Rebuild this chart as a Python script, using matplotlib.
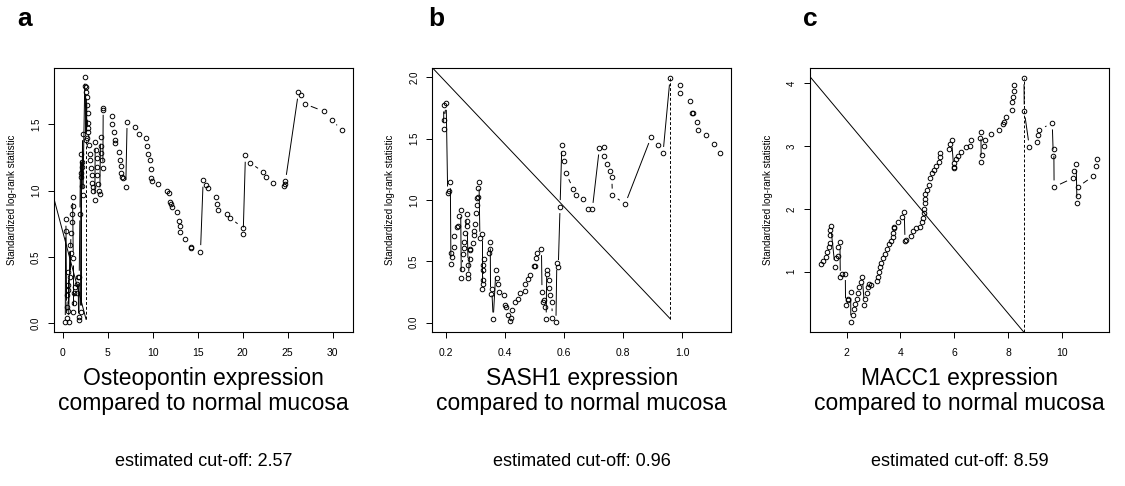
import numpy as np
import matplotlib
matplotlib.use("Agg")
from matplotlib import pyplot as plt
from matplotlib.collections import LineCollection

plt.rcParams['font.family'] = ['Liberation Sans', 'DejaVu Sans']

# panel a: Osteopontin
a_x = [0.26, 0.30, 0.33, 0.41, 0.41, 0.48, 0.52, 0.55, 0.59, 0.59, 0.63, 0.78, 0.78, 0.85, 0.89,
       0.96, 1.00, 1.07, 1.07, 1.15, 1.15, 1.22, 1.22, 1.33, 1.52, 1.59, 1.70, 1.74, 1.78, 1.81,
       1.89, 1.96, 1.96, 2.00, 2.03, 2.07, 2.08, 2.15, 2.18, 2.22, 2.44, 2.45, 2.52, 2.53, 2.59,
       2.63, 2.66, 2.67, 2.74, 2.75, 2.81, 2.82, 2.92, 2.96, 3.00, 3.14, 3.22, 3.26, 3.37, 3.40,
       3.55, 3.59, 3.70, 3.74, 3.75, 3.81, 3.92, 4.00, 4.10, 4.18, 4.25, 4.29, 4.37, 4.44, 4.48,
       4.50, 5.44, 5.45, 5.66, 5.77, 5.81, 6.22, 6.40, 6.44, 6.47, 6.59, 6.70, 6.99, 7.14,
       8.03, 8.47, 9.25, 9.36, 9.50, 9.70, 9.76, 9.80, 9.95, 10.6, 11.55, 11.8, 11.95, 12.0,
       12.1, 12.65, 12.95, 13.0, 13.05, 13.6, 14.2, 14.3, 15.3, 15.6, 15.9, 16.1, 17.05, 17.15,
       17.2, 18.3, 18.6, 20.0, 20.05, 20.3, 20.8, 22.3, 22.6, 23.4, 24.6, 24.65, 24.75, 26.2,
       26.5, 26.9, 29.0, 29.9, 31.0]
a_y = [0.013, 0.696, 0.784, 0.121, 0.038, 0.214, 0.251, 0.286, 0.384, 0.095, 0.013, 0.590, 0.352, 0.527, 0.683,
       0.761, 0.824, 0.887, 0.955, 0.490, 0.088, 0.226, 0.156, 0.276, 0.296, 0.226, 0.347, 0.025, 0.045, 0.347,
       0.824, 1.274, 0.085, 1.130, 1.100, 1.213, 1.180, 1.035, 1.427, 0.967, 1.854, 1.788, 1.778, 1.382, 1.741,
       1.394, 1.703, 1.648, 1.583, 1.444, 1.512, 1.474, 1.344, 1.276, 1.231, 1.168, 1.118, 1.055, 1.030, 1.000,
       0.929, 1.364, 1.306, 1.243, 1.176, 1.118, 1.050, 0.997, 0.975, 1.402, 1.336, 1.281, 1.231, 1.168, 1.620,
       1.608, 1.562, 1.502, 1.444, 1.382, 1.356, 1.289, 1.231, 1.186, 1.130, 1.105, 1.093, 1.030, 1.520,
       1.482, 1.425, 1.397, 1.334, 1.274, 1.230, 1.166, 1.098, 1.073, 1.048, 1.000, 0.980, 0.917, 0.902,
       0.877, 0.839, 0.771, 0.734, 0.686, 0.633, 0.565, 0.573, 0.540, 1.078, 1.043, 1.020, 0.952, 0.897,
       0.850, 0.822, 0.794, 0.720, 0.673, 1.266, 1.210, 1.140, 1.100, 1.060, 1.035, 1.050, 1.070, 1.741,
       1.721, 1.653, 1.598, 1.533, 1.457]

# panel b: SASH1
b_x = [0.193, 0.195, 0.194, 0.202, 0.207, 0.213, 0.216, 0.218, 0.219, 0.220, 0.229, 0.230, 0.237, 0.243,
       0.246, 0.251, 0.253, 0.255, 0.259, 0.261, 0.263, 0.265, 0.272, 0.272, 0.273, 0.276, 0.276, 0.277,
       0.282, 0.283, 0.284, 0.293, 0.296, 0.297, 0.298, 0.304, 0.305, 0.307, 0.309, 0.311, 0.313, 0.316,
       0.324, 0.324, 0.325, 0.326, 0.327, 0.328, 0.330, 0.347, 0.350, 0.351, 0.352, 0.356, 0.361, 0.370,
       0.375, 0.378, 0.380, 0.399, 0.402, 0.405, 0.410, 0.418, 0.421, 0.426, 0.435, 0.445, 0.450, 0.467,
       0.469, 0.478, 0.487, 0.499, 0.501, 0.505, 0.509, 0.524, 0.526, 0.528, 0.533, 0.536, 0.540, 0.542,
       0.543, 0.548, 0.549, 0.554, 0.559, 0.561, 0.573, 0.576, 0.581, 0.587, 0.593, 0.596, 0.600, 0.607,
       0.632, 0.641, 0.666, 0.683, 0.696, 0.720, 0.735, 0.737, 0.747, 0.755, 0.762, 0.764, 0.807, 0.895,
       0.919, 0.935, 0.959, 0.991, 0.992, 1.025, 1.034, 1.035, 1.051, 1.052, 1.081, 1.106, 1.129]
b_y = [1.576, 1.650, 1.774, 1.788, 1.057, 1.073, 1.149, 0.478, 0.565, 0.535, 0.620, 0.704, 0.783, 0.791,
       0.870, 0.916, 0.361, 0.440, 0.563, 0.606, 0.658, 0.728, 0.889, 0.832, 0.791, 0.473, 0.400, 0.364,
       0.592, 0.522, 0.603, 0.647, 0.750, 0.712, 0.807, 0.891, 0.962, 1.016, 1.027, 1.100, 1.144, 0.688,
       0.726, 0.277, 0.315, 0.430, 0.345, 0.473, 0.516, 0.565, 0.600, 0.658, 0.234, 0.277, 0.030, 0.427,
       0.361, 0.318, 0.250, 0.223, 0.141, 0.128, 0.060, 0.014, 0.041, 0.100, 0.166, 0.193, 0.239, 0.258,
       0.313, 0.356, 0.389, 0.465, 0.465, 0.530, 0.571, 0.603, 0.253, 0.171, 0.185, 0.130, 0.030, 0.430,
       0.400, 0.348, 0.285, 0.223, 0.168, 0.041, 0.003, 0.484, 0.457, 0.946, 1.448, 1.380, 1.318, 1.217,
       1.090, 1.038, 1.005, 0.929, 0.924, 1.424, 1.430, 1.361, 1.293, 1.239, 1.185, 1.040, 0.967, 1.514,
       1.448, 1.380, 1.995, 1.935, 1.872, 1.804, 1.707, 1.707, 1.633, 1.568, 1.530, 1.457, 1.380]

# panel c: MACC1
c_x = [1.046, 1.133, 1.220, 1.282, 1.344, 1.381, 1.393, 1.395, 1.406, 1.567, 1.600, 1.670, 1.690, 1.750,
       1.765, 1.830, 1.950, 1.960, 2.060, 2.065, 2.150, 2.155, 2.220, 2.280, 2.310, 2.370, 2.420, 2.470,
       2.540, 2.580, 2.660, 2.690, 2.740, 2.790, 2.840, 2.890, 3.110, 3.180, 3.210, 3.250, 3.280, 3.360,
       3.410, 3.510, 3.570, 3.630, 3.710, 3.730, 3.760, 3.765, 3.900, 4.060, 4.140, 4.170, 4.200, 4.400,
       4.480, 4.560, 4.720, 4.800, 4.840, 4.870, 4.890, 4.910, 4.920, 4.930, 5.000, 5.070, 5.110, 5.160,
       5.230, 5.310, 5.450, 5.470, 5.480, 5.800, 5.850, 5.900, 5.980, 5.985, 6.000, 6.060, 6.120, 6.250,
       6.430, 6.600, 6.610, 6.970, 6.990, 7.000, 7.030, 7.100, 7.160, 7.350, 7.680, 7.800, 7.850, 7.940,
       8.130, 8.140, 8.180, 8.220, 8.230, 8.590, 8.600, 8.790, 9.060, 9.120, 9.160, 9.640, 9.680, 9.700,
       9.710, 10.41, 10.46, 10.53, 10.56, 10.58, 10.59, 11.16, 11.25, 11.32]
c_y = [1.122, 1.175, 1.239, 1.308, 1.388, 1.462, 1.584, 1.664, 1.728, 1.080, 1.210, 1.250, 1.390, 1.467,
       0.910, 0.970, 0.970, 0.470, 0.550, 0.565, 0.680, 0.200, 0.310, 0.400, 0.480, 0.565, 0.665, 0.760,
       0.840, 0.910, 0.470, 0.565, 0.655, 0.750, 0.800, 0.780, 0.850, 0.920, 1.000, 1.080, 1.140, 1.210,
       1.280, 1.356, 1.435, 1.494, 1.550, 1.620, 1.690, 1.706, 1.797, 1.876, 1.945, 1.483, 1.500, 1.574,
       1.647, 1.700, 1.717, 1.797, 1.850, 1.930, 2.000, 2.090, 2.230, 2.150, 2.300, 2.380, 2.490, 2.570,
       2.620, 2.690, 2.750, 2.830, 2.885, 2.950, 3.030, 3.090, 2.650, 2.670, 2.730, 2.790, 2.850, 2.900,
       2.990, 3.010, 3.100, 3.130, 3.220, 2.750, 2.860, 3.000, 3.100, 3.190, 3.260, 3.350, 3.390, 3.460,
       3.580, 3.700, 3.790, 3.880, 3.970, 4.090, 3.560, 2.990, 3.060, 3.180, 3.260, 3.370, 2.840, 2.950,
       2.350, 2.490, 2.600, 2.720, 2.090, 2.200, 2.350, 2.520, 2.690, 2.790]

cutoffs = [2.57, 0.96, 8.59]
cut_top = [1.38, 1.995, 4.09]
titles = ["Osteopontin expression\ncompared to normal mucosa",
          "SASH1 expression\ncompared to normal mucosa",
          "MACC1 expression\ncompared to normal mucosa"]
letters = ["a", "b", "c"]
xlims = [(-0.96, 32.3), (0.155, 1.166), (0.638, 11.75)]
ylims = [(-0.068, 1.926), (-0.079, 2.079), (0.033, 4.25)]
xticks = [[0, 5, 10, 15, 20, 25, 30], [0.2, 0.4, 0.6, 0.8, 1.0], [2, 4, 6, 8, 10]]
xticklabels = [["0", "5", "10", "15", "20", "25", "30"],
               ["0.2", "0.4", "0.6", "0.8", "1.0"],
               ["2", "4", "6", "8", "10"]]
yticks = [[0.0, 0.5, 1.0, 1.5], [0.0, 0.5, 1.0, 1.5, 2.0], [1, 2, 3, 4]]
yticklabels = [["0.0", "0.5", "1.0", "1.5"], ["0.0", "0.5", "1.0", "1.5", "2.0"],
               ["1", "2", "3", "4"]]
# odd straight line from the left edge down to the cut-off
diag_start = [(-0.96, 0.93), (0.155, 2.079), (0.638, 4.107)]
diag_end = [(2.57, 0.03), (0.96, 0.03), (8.59, 0.033)]


def draw_b(ax, xs, ys, gap=6.5):
    # R type="b": lines with a gap around each point
    order = np.argsort(xs, kind="stable")
    xs = np.asarray(xs)[order]
    ys = np.asarray(ys)[order]
    pts = ax.transData.transform(np.column_stack([xs, ys]))
    inv = ax.transData.inverted()
    segs = []
    for p, q in zip(pts[:-1], pts[1:]):
        d = q - p
        L = np.hypot(d[0], d[1])
        if L <= 2 * gap:
            continue
        u = d / L
        segs.append(inv.transform(np.array([p + u * gap, q - u * gap])))
    ax.add_collection(LineCollection(segs, colors="black", linewidths=0.7))
    ax.plot(xs, ys, linestyle="none", marker="o", markersize=3.3,
            markerfacecolor="none", markeredgecolor="black", markeredgewidth=0.7)


fig = plt.figure(figsize=(11.25, 4.86), dpi=100)
lefts = [54.3, 432.3, 810.0]
letter_x = [17, 428, 803]
data = [(a_x, a_y), (b_x, b_y), (c_x, c_y)]

for i in range(3):
    ax = fig.add_axes([lefts[i] / 1125, (486 - 332.3) / 486, 299 / 1125, 264.6 / 486])
    ax.set_xlim(*xlims[i])
    ax.set_ylim(*ylims[i])
    draw_b(ax, data[i][0], data[i][1])
    ax.plot([diag_start[i][0], diag_end[i][0]], [diag_start[i][1], diag_end[i][1]],
            color="black", linewidth=0.7)
    ax.plot([cutoffs[i], cutoffs[i]], [diag_end[i][1], cut_top[i]],
            color="black", linewidth=0.7, linestyle=(0, (3, 2)))
    ax.set_xticks(xticks[i])
    ax.set_xticklabels(xticklabels[i], fontsize=7.5)
    ax.set_yticks(yticks[i])
    ax.set_yticklabels(yticklabels[i], fontsize=7, rotation=90, va="center")
    ax.tick_params(direction="out", length=4.5, width=0.7)
    ax.tick_params(axis="x", pad=7)
    ax.tick_params(axis="y", pad=5)
    for s in ax.spines.values():
        s.set_linewidth(0.8)
    ax.text(-0.141, 0.5, "Standardized log-rank statistic", transform=ax.transAxes,
            rotation=90, ha="center", va="center", fontsize=7)
    cx = (lefts[i] + 149.5) / 1125
    fig.text(cx, 1 - 391 / 486, titles[i], ha="center", va="center", fontsize=16.5,
             linespacing=1.1)
    fig.text(cx, 1 - 461 / 486, "estimated cut-off: %.2f" % cutoffs[i], ha="center",
             va="center", fontsize=13)
    fig.text(letter_x[i] / 1125, 1 - 19 / 486, letters[i], ha="left", va="center",
             fontsize=19, fontweight="bold")

fig.savefig("out.png", dpi=100)
